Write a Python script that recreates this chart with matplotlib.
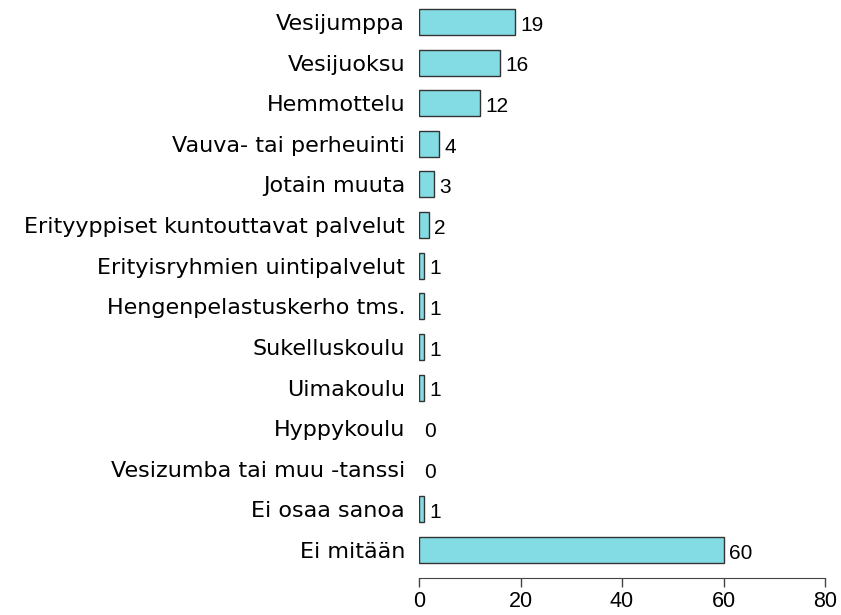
import matplotlib.pyplot as plt
import numpy as np

plt.rcParams['font.family'] = ['Liberation Sans', 'DejaVu Sans']

categories = ['Vesijumppa', 'Vesijuoksu', 'Hemmottelu', 'Vauva- tai perheuinti',
              'Jotain muuta', 'Erityyppiset kuntouttavat palvelut',
              'Erityisryhmien uintipalvelut', 'Hengenpelastuskerho tms.',
              'Sukelluskoulu', 'Uimakoulu', 'Hyppykoulu',
              'Vesizumba tai muu -tanssi', 'Ei osaa sanoa', 'Ei mitään']
values = [19, 16, 12, 4, 3, 2, 1, 1, 1, 1, 0, 0, 1, 60]
xticks = [0, 20, 40, 60, 80]

fig = plt.figure(figsize=(8.41, 6.15), dpi=100)
W, H = 841, 615
# axes box in pixels: x 0..80 -> 419..825, rows centred 22..550
ax = fig.add_axes([419 / W, 1 - 570.3 / H, 406 / W, (570.3 - 1.7) / H])

y = np.arange(len(categories))
edges = ['#333333' if v > 0 else 'none' for v in values]
ax.barh(y, values, height=0.64, color='#83dbe3', edgecolor=edges, linewidth=1)

for yi, v in zip(y, values):
    ax.text(v + 1.0, yi + 0.08, str(v), ha='left', va='center', fontsize=15)

ax.set_xlim(0, 80)
ax.set_ylim(len(categories) - 0.5, -0.5)
ax.set_yticks(y)
ax.set_yticklabels(categories, fontsize=16, family='DejaVu Sans')
ax.tick_params(axis='y', length=0, pad=10)
ax.set_xticks(xticks)
ax.tick_params(axis='x', labelsize=15.5, length=6.5, width=1, pad=3, color='#444444')

for s in ['top', 'right', 'left']:
    ax.spines[s].set_visible(False)
ax.spines['bottom'].set_position(('outward', 5.5))
ax.spines['bottom'].set_color('#444444')

fig.savefig('out.png', dpi=100)
